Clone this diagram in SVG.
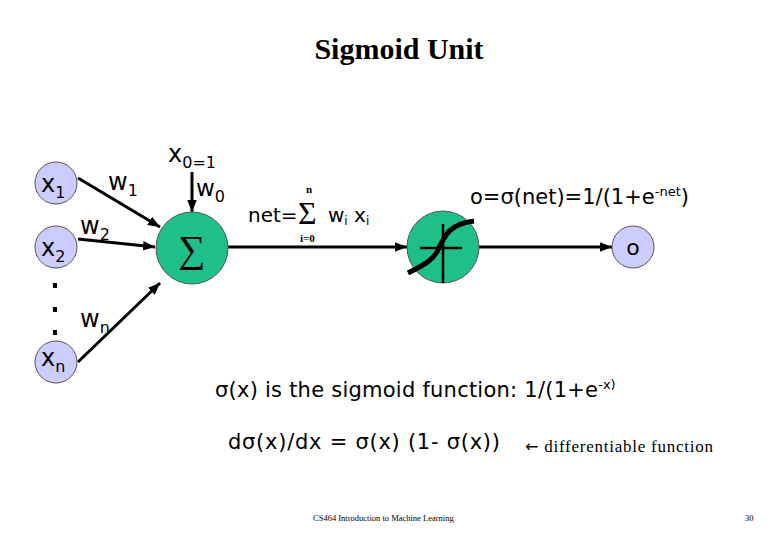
<svg xmlns="http://www.w3.org/2000/svg" width="780" height="540" viewBox="0 0 780 540">
<defs>
<marker id="ah" viewBox="0 0 10 10" refX="10" refY="5" markerWidth="4" markerHeight="4" orient="auto" markerUnits="strokeWidth"><path d="M0,1 L10,5 L0,9 z" fill="#000"/></marker>
<style>
.in{fill:#ccccff;stroke:#555;stroke-width:1}
.unit{fill:#1fbf8c;stroke:#555;stroke-width:1}
.t{font-family:"DejaVu Sans",Verdana,sans-serif;fill:#000}
.s{font-family:"Liberation Serif","Times New Roman",serif;fill:#000}
.c{stroke:#000;stroke-width:3;fill:none}
</style>
</defs>
<rect width="780" height="540" fill="#fff"/>
<text class="s" x="399" y="59" font-size="30" font-weight="bold" text-anchor="middle">Sigmoid Unit</text>

<g id="connectors">
<line class="c" x1="78" y1="178" x2="160" y2="227" marker-end="url(#ah)"/>
<line class="c" x1="78" y1="239" x2="155" y2="247" marker-end="url(#ah)"/>
<line class="c" x1="78" y1="362" x2="160" y2="283" marker-end="url(#ah)"/>
<line class="c" x1="192" y1="172" x2="192" y2="212" marker-end="url(#ah)"/>
<line class="c" x1="228" y1="247" x2="407" y2="247" marker-end="url(#ah)"/>
<line class="c" x1="479" y1="247" x2="612" y2="247" marker-end="url(#ah)"/>
</g>

<g id="x1"><circle class="in" cx="56" cy="183" r="21"/><text class="t" x="41" y="192" font-size="24">x<tspan font-size="16" dy="6">1</tspan></text></g>
<g id="x2"><circle class="in" cx="56" cy="247" r="21"/><text class="t" x="41" y="256" font-size="24">x<tspan font-size="16" dy="6">2</tspan></text></g>
<g id="dots" fill="#000"><rect x="53" y="283" width="4" height="5"/><rect x="53" y="307" width="4" height="5"/><rect x="53" y="330" width="4" height="5"/></g>
<g id="xn"><circle class="in" cx="56" cy="362" r="21"/><text class="t" x="41" y="366" font-size="24">x<tspan font-size="16" dy="6">n</tspan></text></g>

<text class="t" x="108" y="190" font-size="24">w<tspan font-size="16" dy="6">1</tspan></text>
<text class="t" x="80" y="234" font-size="24">w<tspan font-size="16" dy="6">2</tspan></text>
<text class="t" x="80" y="327" font-size="24">w<tspan font-size="16" dy="6">n</tspan></text>
<text class="t" x="168" y="162" font-size="24">x<tspan font-size="16" dy="6">0=1</tspan></text>
<text class="t" x="196" y="196" font-size="23">w<tspan font-size="16" dy="6">0</tspan></text>

<g id="sum"><circle class="unit" cx="192" cy="248" r="36"/><text class="s" x="192" y="262" font-size="38" text-anchor="middle">∑</text></g>

<g id="sigmoid"><circle class="unit" cx="443" cy="247" r="36"/>
<line x1="420" y1="248" x2="462" y2="248" stroke="#000" stroke-width="2.5"/>
<line x1="443" y1="224" x2="443" y2="283" stroke="#000" stroke-width="2.5"/>
<path d="M408,273 C426,264 432,260 437,252 C445,234 450,224 474,221" stroke="#000" stroke-width="5" fill="none"/>
</g>

<g id="o"><circle class="in" cx="633" cy="247" r="21"/><text class="t" x="633" y="255" font-size="22" text-anchor="middle">o</text></g>

<text class="t" x="248" y="222" font-size="20">net=</text>
<text class="s" x="298" y="224" font-size="32">Σ</text>
<text class="s" x="306" y="193" font-size="11" font-weight="bold">n</text>
<text class="s" x="300" y="242" font-size="11" font-weight="bold">i=0</text>
<text class="t" x="328" y="222" font-size="20">w<tspan font-size="12" dy="3">i</tspan><tspan dy="-3"> x</tspan><tspan font-size="12" dy="3">i</tspan></text>

<text class="t" x="470" y="204" font-size="21">o=σ(net)=1/(1+e<tspan font-size="13" dy="-8">-net</tspan><tspan dy="8">)</tspan></text>

<text class="t" x="215" y="397" font-size="21"><tspan textLength="383" lengthAdjust="spacing">σ(x) is the sigmoid function: 1/(1+e</tspan><tspan font-size="13" dy="-8">-x)</tspan></text>
<text class="t" x="228" y="449" font-size="21" textLength="272" lengthAdjust="spacing">dσ(x)/dx = σ(x) (1- σ(x))</text>
<text class="s" x="525" y="452" font-size="17" textLength="188" lengthAdjust="spacing"><tspan font-family="DejaVu Sans, sans-serif" font-size="16">←</tspan> differentiable function</text>

<text class="s" x="313" y="521" font-size="8.5">CS464 Introduction to Machine Learning</text>
<text class="s" x="745" y="521" font-size="8.5">30</text>
</svg>
